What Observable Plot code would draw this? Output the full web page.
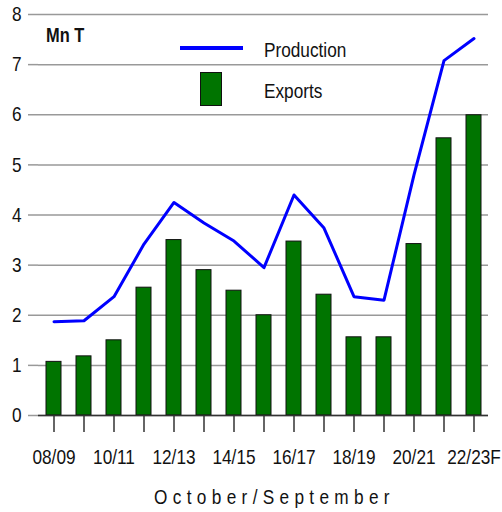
<!DOCTYPE html>
<html>
<head>
<meta charset="utf-8">
<script src="https://cdn.jsdelivr.net/npm/d3@7"></script>
<script src="https://cdn.jsdelivr.net/npm/@observablehq/plot@0.6"></script>
<style>
  html, body { margin: 0; padding: 0; background: #fff; }
  #wrap { position: relative; width: 502px; height: 512px; font-family: "Liberation Sans", Arial, sans-serif; }
  .lbl { position: absolute; font-size: 21px; color: #111; line-height: 1; white-space: nowrap; transform: scaleX(0.82); transform-origin: 0 0; }
</style>
</head>
<body>
<div id="wrap"></div>
<script>
const seasons = ["08/09","09/10","10/11","11/12","12/13","13/14","14/15","15/16","16/17","17/18","18/19","19/20","20/21","21/22","22/23F"];
const exportsMnT = [1.07,1.18,1.5,2.55,3.5,2.9,2.49,2.0,3.47,2.41,1.56,1.56,3.42,5.53,5.99];
const productionMnT = [1.87,1.89,2.37,3.42,4.25,3.84,3.48,2.95,4.4,3.74,2.37,2.3,4.8,7.08,7.52];
const yTicks = [0,1,2,3,4,5,6,7,8];
const unitLabel = "Mn T";
const xTitle = "October/September";
const legendItems = ["Production", "Exports"];

const rows = seasons.map((s, i) => ({season: s, exp: exportsMnT[i], prod: productionMnT[i]}));
const font = '"Liberation Sans", Arial, sans-serif';

const chart = Plot.plot({
  width: 502,
  height: 512,
  marginTop: 14,
  marginBottom: 97,
  marginLeft: 38,
  marginRight: 14,
  style: {fontFamily: font, fontSize: "21px", color: "#111", background: "#fff"},
  x: {type: "band", domain: seasons, paddingInner: 0.5, paddingOuter: 0.25, label: null},
  y: {domain: [0, 8], label: null},
  marks: [
    Plot.gridY(yTicks, {stroke: "#999", strokeOpacity: 1, strokeWidth: 1.5}),
    Plot.axisY(yTicks, {tickSize: 10, tickPadding: 7, stroke: "#999", strokeWidth: 1.5, label: null, fontSize: 21, tickFormat: d3.format("d")}),
    Plot.barY(rows, {x: "season", y: "exp", fill: "#007400", stroke: "#111", strokeWidth: 1}),
    Plot.ruleX([0], {frameAnchor: "left", stroke: "#555", strokeWidth: 2}),
    Plot.ruleY([0], {stroke: "#333", strokeWidth: 1.5}),
    Plot.axisX({tickSize: 17, tickPadding: 17, stroke: "#333", strokeWidth: 1.5, label: null, fontSize: 21,
      tickFormat: (d) => (seasons.indexOf(d) % 2 === 0 ? d : "")}),
    Plot.line(rows, {x: "season", y: "prod", stroke: "#0000ff", strokeWidth: 3}),
    Plot.text([xTitle], {frameAnchor: "bottom", dy: 88, dx: 11, fontSize: 21, fill: "#111"})
  ]
});

// narrow the lettering (the reference uses a condensed face)
d3.select(chart).selectAll("text").each(function() {
  const t = this.getAttribute("transform");
  if (t) this.setAttribute("transform", t + " scale(0.82,1)");
  else {
    const x = +(this.getAttribute("x") || 0), y = +(this.getAttribute("y") || 0);
    this.removeAttribute("x"); this.removeAttribute("y");
    this.setAttribute("transform", `translate(${x},${y}) scale(0.82,1)`);
  }
  if (this.textContent === xTitle) this.setAttribute("letter-spacing", "6.5px");
});

const wrap = document.getElementById("wrap");
wrap.appendChild(chart);

function addDiv(style, text, cls) {
  const d = document.createElement("div");
  if (cls) d.className = cls;
  Object.assign(d.style, style);
  if (text) d.textContent = text;
  wrap.appendChild(d);
  return d;
}
addDiv({left: "46px", top: "25px", fontWeight: "bold", fontSize: "20px"}, unitLabel, "lbl");
addDiv({position: "absolute", left: "180px", top: "46px", width: "63px", height: "4px", background: "#0000ff"});
addDiv({left: "264px", top: "39px"}, legendItems[0], "lbl");
addDiv({position: "absolute", left: "200px", top: "72px", width: "20px", height: "32px", background: "#007400", border: "1px solid #111"});
addDiv({left: "264px", top: "80px"}, legendItems[1], "lbl");
</script>
</body>
</html>
